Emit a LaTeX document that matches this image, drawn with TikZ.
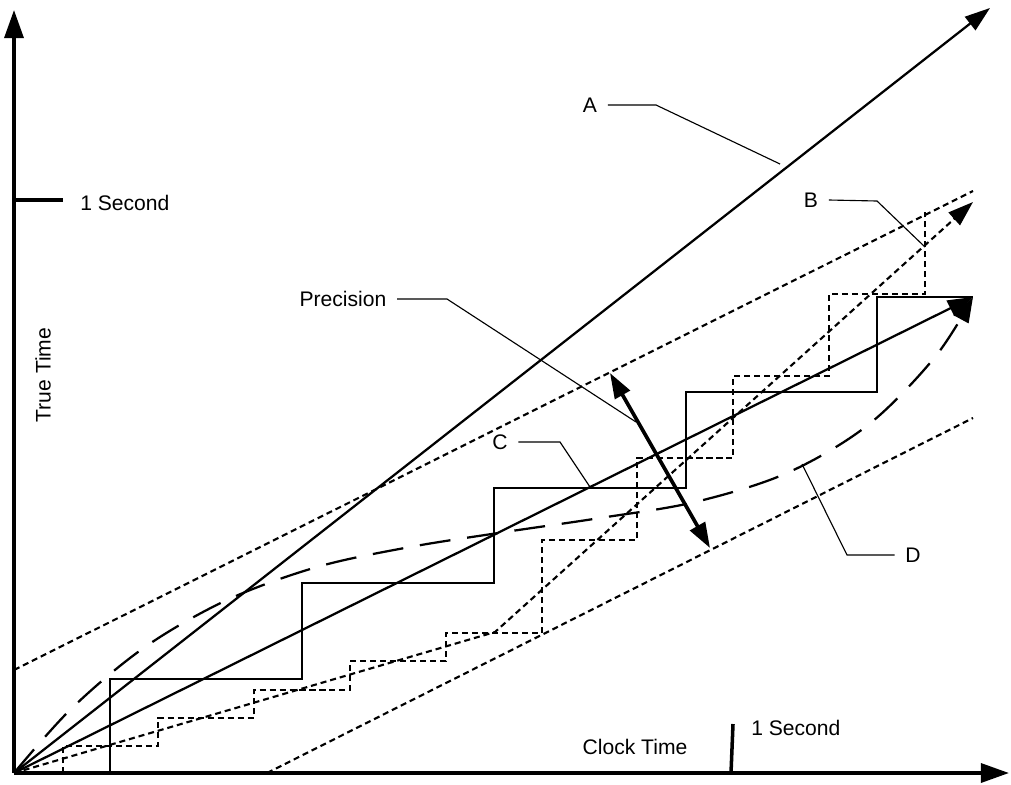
\documentclass[tikz,border=0pt]{standalone}
\usepackage{fontspec}
\setmainfont{Liberation Sans}
\usetikzlibrary{arrows.meta}

\tikzset{
	axis/.style={line width=2.5pt, -{Triangle[length=20pt,width=13.5pt]}},
	solidline/.style={line width=1.6pt},
	fineDash/.style={line width=1.5pt, dash pattern=on 4.3pt off 2.8pt},
	longDash/.style={line width=1.6pt, dash pattern=on 22pt off 12pt},
	leader/.style={line width=0.8pt},
	tip/.style={-{Triangle[length=18pt,width=12pt]}},
	lbl/.style={inner xsep=7.5pt, inner ysep=0pt, font=\fontsize{15}{18}\selectfont}
}

\begin{document}
\begin{tikzpicture}[x=0.025cm, y=-0.025cm]
		\useasboundingbox (0,0) rectangle (1011,784);
		
		%Axes
		\coordinate (O) at (14,773);
		\coordinate (yEnd) at (14,10);
		\coordinate (xEnd) at (1009,773);
		\draw[axis] (O) -- (yEnd);
		\draw[axis] (O) -- (xEnd);
		\draw[line width=2.5pt] (14,200) -- (63,200);
		\draw[line width=2.5pt] (731,773) -- (733,724);
		
		%Axis labels
		\node[lbl, inner xsep=0pt, anchor=west] (ySecond) at (80,203) {1 Second};
		\node[lbl, inner xsep=0pt, anchor=west] (xSecond) at (751,728) {1 Second};
		\node[lbl, rotate=90] (trueTime) at (43,375) {True Time};
		\node[lbl] (clockTime) at (635,747) {Clock Time};
		
		%Precision bounds
		\draw[fineDash] (14,670) -- (973,191);
		\draw[fineDash] (267,773) -- (973,418);
		
		%Staircases
		\draw[solidline] (110,773) |- (302,679) |- (494,583) |- (686,488) |- (877,392) |- (973,297);
		\draw[fineDash] (63,773) |- (158,746) |- (254,718) |- (350,690) |- (446,661) |- (542,633) 
		|- (637,540) |- (733,458) |- (829,376) |- (925,294) -- (925,212);
		
		%Clock lines
		\coordinate (tipA) at (990,8);
		\coordinate (tipB) at (973,202);
		\coordinate (tipC) at (973,297);
		\draw[solidline, tip] (O) -- (tipA);
		\draw[fineDash, tip] (O) -- (495,632) -- (tipB);
		\draw[solidline, tip] (O) -- (tipC);
		\draw[longDash, tip] plot[smooth, tension=0.55] coordinates {(O) (72,708) (145,647) (227,600) 
		(317,567) (410,547) (505,532) (600,518) (695,502) (787,473) (868,425) (935,357) (tipC)};
		
		%Precision arrow
		\coordinate (precTop) at (610,373);
		\coordinate (precBottom) at (710,548);
		\draw[line width=2.6pt, {Triangle[length=18pt,width=12pt]}-{Triangle[length=18pt,width=12pt]}] 
		(precTop) -- (precBottom);
		
		%Labels
		\node[lbl] (labelA) at (590,105) {A};
		\node[lbl] (labelB) at (811,200) {B};
		\node[lbl] (labelC) at (500,442) {C};
		\node[lbl] (labelD) at (913,555) {D};
		\node[lbl] (labelPrec) at (343,299) {Precision};
		
		%Leaders
		\coordinate (onA) at (780,164);
		\coordinate (onB) at (925,247);
		\coordinate (onC) at (590,487);
		\coordinate (onD) at (802,464);
		\coordinate (onPrec) at (636,422);
		\draw[leader] (labelA.east) -- (656,105) -- (onA);
		\draw[leader] (labelB.east) -- (877,201) -- (onB);
		\draw[leader] (labelC.east) -- (560,442) -- (onC);
		\draw[leader] (labelD.west) -- (847,555) -- (onD);
		\draw[leader] (labelPrec.east) -- (447,299) -- (onPrec);
		
\end{tikzpicture}
\end{document}
